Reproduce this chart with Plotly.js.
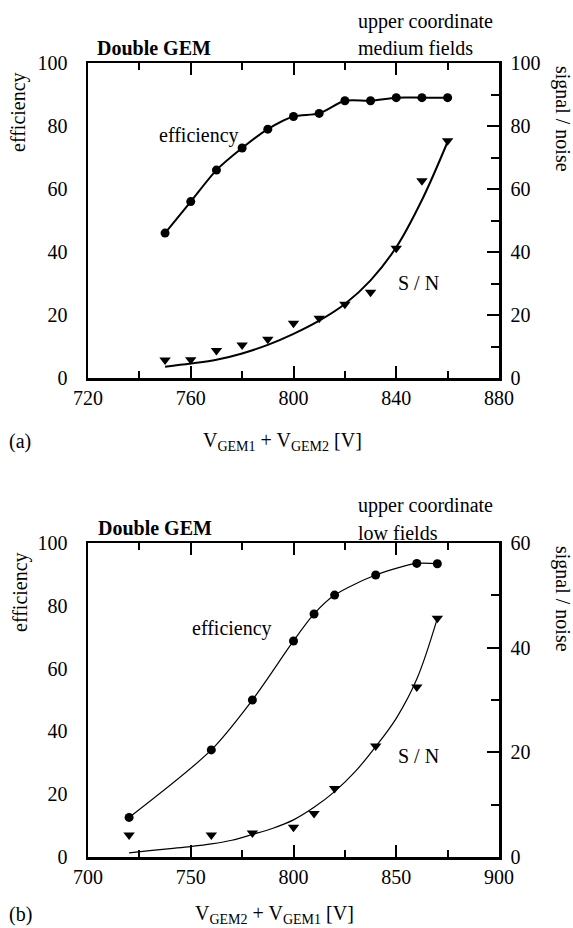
<!DOCTYPE html>
<html>
<head>
<meta charset="utf-8">
<script src="https://cdn.plot.ly/plotly-3.0.1.min.js"></script>
<style>html,body{margin:0;padding:0;background:#fff;}#chart{width:573px;height:928px;}</style>
</head>
<body>
<div id="chart"></div>
<script>
// ---- Panel (a): upper coordinate, medium fields ----
var xA = [750, 760, 770, 780, 790, 800, 810, 820, 830, 840, 850, 860];
var effA = [46, 56, 66, 73, 79, 83, 84, 88, 88, 89, 89, 89];
var snA = [5.7, 5.8, 8.7, 10.5, 12.3, 17.4, 19, 23.4, 27.2, 41.2, 62.6, 75.3];
var fitXA = [750, 760, 770, 780, 790, 800, 810, 820, 830, 840, 850, 860];
var fitA = [3.6, 4.6, 5.8, 7.8, 10.5, 14.0, 18.2, 23.5, 31, 41.5, 56.5, 75];

// ---- Panel (b): upper coordinate, low fields ----
var xB = [720, 760, 780, 800, 810, 820, 840, 860, 870];
var effB = [12.6, 34.1, 50, 68.8, 77.4, 83.4, 89.8, 93.5, 93.4];
var snB = [4.2, 4.2, 4.6, 5.7, 8.3, 13.1, 21.2, 32.5, 45.6];
var fitXB = [720, 730, 740, 750, 760, 770, 780, 790, 800, 810, 820, 830, 840, 850, 860, 870];
var fitB = [0.8, 1.2, 1.6, 2.0, 2.5, 3.2, 4.3, 5.5, 7.1, 9.5, 12.5, 16.3, 21.1, 26.5, 34, 45.6];

var W = 573, H = 928;
function px(x) { return x / W; }
function py(y) { return 1 - y / H; }

var FONT = "Liberation Serif";
var black = "#000";

var traces = [
  {x: xA, y: effA, xaxis: 'x', yaxis: 'y', mode: 'lines+markers', line: {shape: 'spline', smoothing: 0.8, color: black, width: 2},
   marker: {symbol: 'circle', size: 9, color: black}, showlegend: false},
  {x: fitXA, y: fitA, xaxis: 'x', yaxis: 'y2', mode: 'lines', line: {shape: 'spline', smoothing: 1, color: black, width: 2}, showlegend: false},
  {x: xA, y: snA, xaxis: 'x', yaxis: 'y2', mode: 'markers', marker: {symbol: 'triangle-down', size: 10, color: black}, showlegend: false},

  {x: xB, y: effB, xaxis: 'x2', yaxis: 'y3', mode: 'lines+markers', line: {shape: 'spline', smoothing: 0.8, color: black, width: 1.2},
   marker: {symbol: 'circle', size: 9, color: black}, showlegend: false},
  {x: fitXB, y: fitB, xaxis: 'x2', yaxis: 'y4', mode: 'lines', line: {shape: 'spline', smoothing: 1, color: black, width: 1.2}, showlegend: false},
  {x: xB, y: snB, xaxis: 'x2', yaxis: 'y4', mode: 'markers', marker: {symbol: 'triangle-down', size: 10, color: black}, showlegend: false}
];

var xdom = [px(88), px(499)];
var domA = [py(378), py(63)];
var domB = [py(857), py(543)];

function axisBase(extra) {
  var a = {
    showgrid: false, zeroline: false, showline: true, linecolor: black, linewidth: 2.5,
    ticks: 'inside', ticklen: 12, tickwidth: 2, tickcolor: black,
    tickfont: {family: FONT, size: 20, color: black},
    fixedrange: true
  };
  for (var k in extra) a[k] = extra[k];
  return a;
}

var minorY = {dtick: 10, ticks: 'inside', ticklen: 8, tickwidth: 2, tickcolor: black};
var clear = 'rgba(0,0,0,0)';

var layout = {
  width: W, height: H,
  margin: {l: 0, r: 0, t: 0, b: 0},
  paper_bgcolor: '#fff', plot_bgcolor: '#fff',
  font: {family: FONT, size: 20, color: black},
  showlegend: false,
  xaxis: axisBase({domain: xdom, anchor: 'y', range: [720, 880], tick0: 720, dtick: 40, mirror: 'ticks',
    minor: {dtick: 20, ticks: 'inside', ticklen: 7, tickwidth: 2, tickcolor: black}}),
  // left efficiency axis: labels (spaced by invisible outside ticks)
  yaxis: axisBase({domain: domA, anchor: 'x', range: [0, 100], dtick: 20, side: 'left',
    ticks: 'outside', ticklen: 14, tickcolor: clear}),
  // same scale, draws the inward tick marks only
  yaxis5: axisBase({overlaying: 'y', anchor: 'x', side: 'left', range: [0, 100], dtick: 20,
    showticklabels: false, minor: minorY}),
  yaxis2: axisBase({overlaying: 'y', anchor: 'x', side: 'right', range: [0, 100], dtick: 20, tickprefix: '\u00a0',
    minor: minorY}),
  xaxis2: axisBase({domain: xdom, anchor: 'y3', range: [700, 900], tick0: 700, dtick: 50, mirror: 'ticks',
    minor: {dtick: 25, ticks: 'inside', ticklen: 7, tickwidth: 2, tickcolor: black}}),
  yaxis3: axisBase({domain: domB, anchor: 'x2', range: [0, 100], dtick: 20, side: 'left',
    ticks: 'outside', ticklen: 14, tickcolor: clear}),
  yaxis6: axisBase({overlaying: 'y3', anchor: 'x2', side: 'left', range: [0, 100], dtick: 20,
    showticklabels: false, minor: minorY}),
  yaxis4: axisBase({overlaying: 'y3', anchor: 'x2', side: 'right', range: [0, 60], dtick: 20, tickprefix: '\u00a0',
    minor: minorY}),
  annotations: []
};

function ann(text, x, y, opts) {
  var a = {text: text, x: px(x), y: py(y), xref: 'paper', yref: 'paper', showarrow: false,
    font: {family: FONT, size: 20, color: black}, xanchor: 'center', yanchor: 'middle'};
  for (var k in (opts || {})) a[k] = opts[k];
  layout.annotations.push(a);
}

// Panel (a) texts
ann('<b>Double GEM</b>', 95, 48, {xanchor: 'left'});
ann('upper coordinate', 356, 21, {xanchor: 'left'});
ann('medium fields', 356, 48, {xanchor: 'left'});
ann('efficiency', 157, 135, {xanchor: 'left'});
ann('S / N', 396, 283, {xanchor: 'left'});
ann('efficiency', 18, 112, {textangle: -90});
ann('signal / noise', 563, 119, {textangle: 90});
ann('V<sub>GEM1</sub> + V<sub>GEM2</sub> [V]', 282, 441);
ann('(a)', 7, 441, {xanchor: 'left'});

// Panel (b) texts
ann('<b>Double GEM</b>', 96, 528, {xanchor: 'left'});
ann('upper coordinate', 356, 505, {xanchor: 'left'});
ann('low fields', 356, 533, {xanchor: 'left'});
ann('efficiency', 190, 628, {xanchor: 'left'});
ann('S / N', 396, 756, {xanchor: 'left'});
ann('efficiency', 20, 592, {textangle: -90});
ann('signal / noise', 563, 599, {textangle: 90});
ann('V<sub>GEM2</sub> + V<sub>GEM1</sub> [V]', 274, 914);
ann('(b)', 7, 914, {xanchor: 'left'});

Plotly.newPlot('chart', traces, layout, {displayModeBar: false, staticPlot: true});
</script>
</body>
</html>
